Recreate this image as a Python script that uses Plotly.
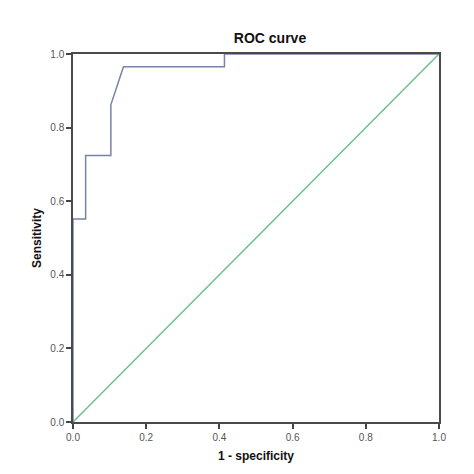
import plotly.graph_objects as go

# ROC curve steps (29 positives / 29 negatives)
fpr = [0.0, 0.0, 0.0345, 0.0345, 0.1034, 0.1034, 0.1379, 0.4138, 0.4138, 1.0]
tpr = [0.0, 0.5517, 0.5517, 0.7241, 0.7241, 0.8621, 0.9655, 0.9655, 1.0, 1.0]

ref_x = [0.0, 1.0]
ref_y = [0.0, 1.0]

tick_vals = [0.0, 0.2, 0.4, 0.6, 0.8, 1.0]
tick_text = ['0.0', '0.2', '0.4', '0.6', '0.8', '1.0']

fig = go.Figure()

fig.add_trace(go.Scatter(x=ref_x, y=ref_y, mode='lines',
                         line=dict(color='#6cc08a', width=1.5),
                         showlegend=False))

fig.add_trace(go.Scatter(x=fpr, y=tpr, mode='lines',
                         line=dict(color='#7583a8', width=1.5),
                         showlegend=False))

axis_style = dict(range=[0, 1], tickvals=tick_vals, ticktext=tick_text,
                  ticks='outside', ticklen=5, tickwidth=1.5, tickcolor='#444',
                  showline=True, linecolor='#4a4a4a', linewidth=1.5, mirror=True,
                  showgrid=False, zeroline=False,
                  tickfont=dict(size=10, color='#555'))

fig.update_xaxes(**axis_style,
                 title=dict(text='<b>1 - specificity</b>', standoff=10,
                            font=dict(size=12, color='#111')))
fig.update_yaxes(**axis_style,
                 title=dict(text='<b>Sensitivity</b>', standoff=6,
                            font=dict(size=12, color='#111')))

# page body adds an 8px offset, so the figure is 466 px and margins shifted
fig.update_layout(
    width=466, height=466,
    margin=dict(l=65, r=35, t=46, b=52),
    plot_bgcolor='white', paper_bgcolor='white',
    font=dict(family='Liberation Sans, Arial, sans-serif'),
    title=dict(text='<b>ROC curve</b>', x=262/466, xanchor='center',
               y=1 - 30/466, yanchor='middle',
               font=dict(size=14, color='#111')),
)

fig.write_html("out.html")
